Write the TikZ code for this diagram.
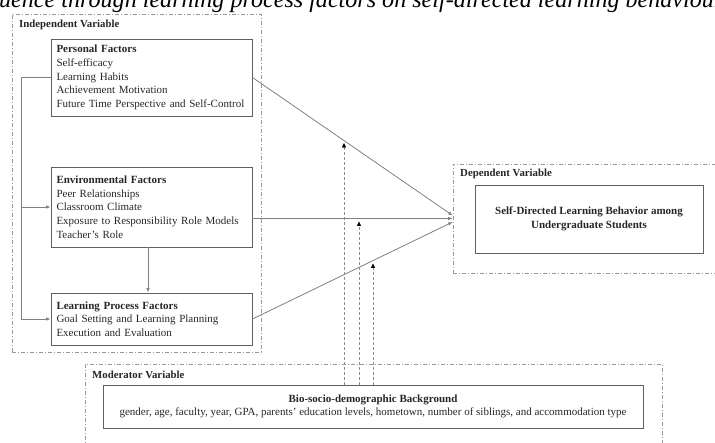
\documentclass[tikz,border=0pt]{standalone}
\usepackage{fontspec}
\setmainfont{Liberation Serif}
\usepackage{graphicx}
\usetikzlibrary{arrows.meta,fit,calc}
\begin{document}
\begin{tikzpicture}[x=1pt,y=-1pt,
  font=\fontsize{11}{13.7}\selectfont,
  dashbox/.style={draw=black!40, line width=0.6pt, dash pattern=on 4pt off 2pt on 1pt off 2pt, inner sep=0pt},
  boxbase/.style={draw=black!62, line width=0.9pt, text=black!85, minimum width=201pt},
  factbox/.style={boxbase, align=left, inner xsep=5.5pt, inner ysep=0pt, text width=190pt},
  centbox/.style={boxbase, align=center, inner sep=0pt},
  grouplabel/.style={anchor=west, inner sep=0pt, font=\fontsize{10.8}{13}\selectfont\bfseries, text=black!85},
  arr/.style={draw=black!50, line width=0.8pt, -{Latex[length=4.5pt,width=3.6pt]}},
  modarr/.style={draw=black!45, line width=0.4pt, densely dashed, -{Triangle[length=4.5pt,width=4pt,black]}}
]
\useasboundingbox (0,0) rectangle (715,443);
\clip (0,0) rectangle (715,443);

% title, cut by the top edge as in the reference
\node[anchor=base west, inner sep=0pt, text=black] (title) at (-1,7.5)
  {\resizebox{724pt}{!}{\itshape uence through learning process factors on self-directed learning behaviour}};

% independent variable group
\node[dashbox, fit={(12,14) (261,352)}] (ind) {};
\node[grouplabel] (indlab) at (19,25) {Independent Variable};

\node[factbox, minimum height=77pt] (pf) at (151.5,77.5)
  {\textbf{Personal Factors}\\Self-efficacy\\Learning Habits\\Achievement Motivation\\Future Time Perspective and Self-Control};
\node[factbox, minimum height=80pt] (env) at (151.5,207)
  {\textbf{Environmental Factors}\\Peer Relationships\\Classroom Climate\\Exposure to Responsibility Role Models\\Teacher's Role};
\node[factbox, minimum height=52pt] (lpf) at (151.5,319)
  {\textbf{Learning Process Factors}\\Goal Setting and Learning Planning\\Execution and Evaluation};

% dependent variable group
\node[dashbox, fit={(453,164) (728,273)}] (dep) {};
\node[grouplabel] (deplab) at (460,174) {Dependent Variable};
\node[centbox, minimum width=228pt, minimum height=68pt, font=\fontsize{11}{14}\selectfont\bfseries] (sdl) at (589,219)
  {Self-Directed Learning Behavior among\\Undergraduate Students};

% moderator variable group
\node[dashbox, fit={(85,364) (662,452)}] (mod) {};
\node[grouplabel] (modlab) at (92,375) {Moderator Variable};
\node[centbox, minimum width=540pt, minimum height=43pt] (bio) at (373,406.5)
  {\textbf{Bio-socio-demographic Background}\\gender, age, faculty, year, GPA, parents' education levels, hometown, number of siblings, and accommodation type};

% feedback line on the left
\coordinate (lx) at (21,0);
\draw[arr] (pf.west) -- (pf.west -| lx) |- (lpf.west);
\draw[arr] (env.west -| lx) -- (env.west);
\draw[arr] ([xshift=-3.5pt]env.south) -- ([xshift=-3.5pt]lpf.north);

% paths to dependent variable
\draw[arr] (pf.east) -- ([yshift=3pt]dep.west);
\draw[arr] (env.east |- dep.west) -- (dep.west);
\draw[arr] (lpf.east) -- ([yshift=-3.5pt]dep.west);

% moderating effects
\coordinate (tip1) at (344,143);
\coordinate (tip2) at (359,221.5);
\coordinate (tip3) at (373,263.5);
\draw[modarr] (tip1 |- bio.north) -- (tip1);
\draw[modarr] (tip2 |- bio.north) -- (tip2);
\draw[modarr] (tip3 |- bio.north) -- (tip3);
\end{tikzpicture}
\end{document}
